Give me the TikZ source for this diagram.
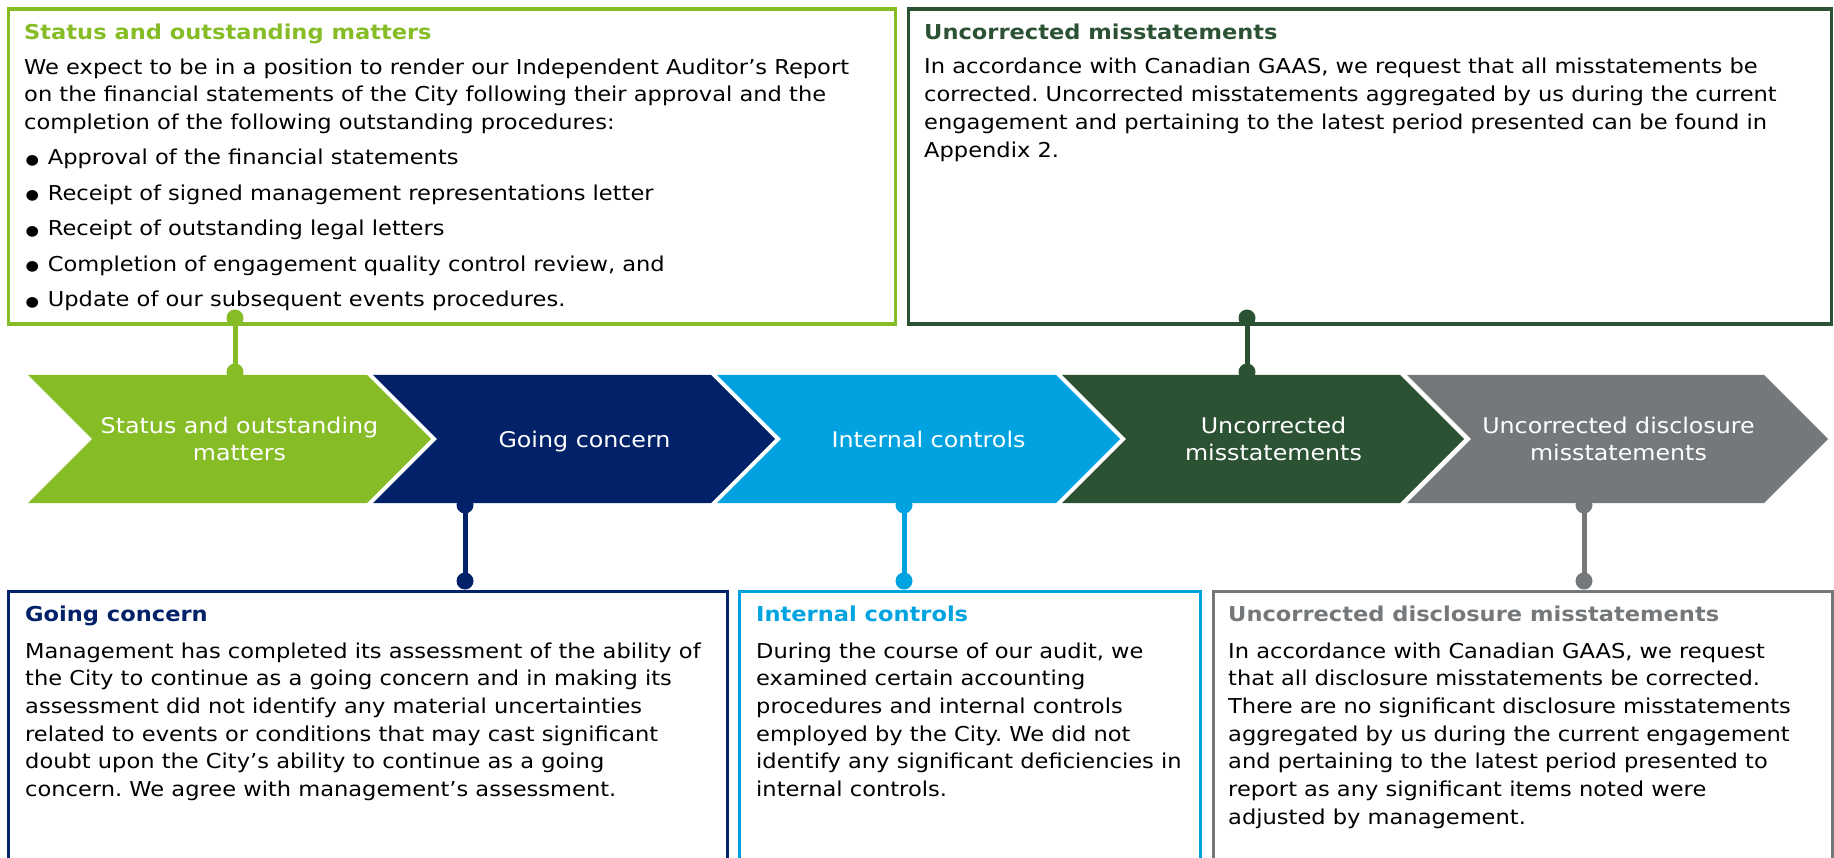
\documentclass[tikz,border=0pt]{standalone}
\usepackage{fontspec}
\setmainfont{DejaVu Sans}[FakeStretch=1.1]
\frenchspacing
\definecolor{kgreen}{HTML}{86BC25}
\definecolor{knavy}{HTML}{012169}
\definecolor{kcyan}{HTML}{00A3E0}
\definecolor{kdgreen}{HTML}{2C5234}
\definecolor{kgray}{HTML}{75787B}
\newcommand{\blt}{\makebox[23.7pt][l]{\kern1.5pt\raisebox{0.6pt}{\fontsize{14}{14}\selectfont ●}}}

\begin{document}
\begin{tikzpicture}[x=1pt,y=-1pt,
  frame/.style={draw=#1, line width=3.3pt, rectangle, inner sep=0pt, anchor=north west},
  title/.style={anchor=base west, inner sep=0pt, text=#1, font=\fontsize{20.5}{28}\selectfont\bfseries},
  body/.style={anchor=base west, inner sep=0pt, align=left, font=\fontsize{20.5}{27.7}\selectfont},
  chevtext/.style={anchor=base, text=white, align=center, inner sep=0pt, font=\fontsize{21.6}{27}\selectfont},
  pin/.style={draw=#1, line width=5pt},
  pinend/.style={fill=#1},
]
\useasboundingbox (0,0) rectangle (1834,858);
\begin{scope}
\clip (0,0) rectangle (1834,858);

% connector pins between the boxes and the chevrons
\coordinate (p1a) at (235,318);  \coordinate (p1b) at (235,372);
\coordinate (p2a) at (465,505);  \coordinate (p2b) at (465,581);
\coordinate (p3a) at (904,505);  \coordinate (p3b) at (904,581);
\coordinate (p4a) at (1247,318); \coordinate (p4b) at (1247,372);
\coordinate (p5a) at (1584,505); \coordinate (p5b) at (1584,581);
\foreach \p/\col in {1/kgreen,2/knavy,3/kcyan,4/kdgreen,5/kgray}{
  \draw[pin=\col] (p\p a) -- (p\p b);
  \fill[pinend=\col] (p\p a) circle[radius=8.5];
  \fill[pinend=\col] (p\p b) circle[radius=8.5];
}

% chevron band
\foreach \s/\c/\col in {28/367/kgreen, 373/711/knavy, 717/1056/kcyan, 1062/1400/kdgreen, 1407/1764/kgray}
  \fill[\col] (\s,375) -- (\c,375) -- (\c+64,439) -- (\c,503) -- (\s,503) -- (\s+64,439) -- cycle;

% labels are anchored on the baseline of their last line
\node[chevtext] (ch1) at (239.5,460) {Status and outstanding\\matters};
\node[chevtext] (ch2) at (584.5,447) {Going concern};
\node[chevtext] (ch3) at (928.5,447) {Internal controls};
\node[chevtext] (ch4) at (1273.5,460) {Uncorrected\\misstatements};
\node[chevtext] (ch5) at (1618.5,460) {Uncorrected disclosure\\misstatements};

% text boxes
\node[frame=kgreen, minimum width=887pt, minimum height=315pt] (bx1) at (6.5,7.5) {};
\node[frame=kdgreen, minimum width=923.5pt, minimum height=315pt] (bx2) at (906.5,7.5) {};
\node[frame=knavy, minimum width=719pt, minimum height=320pt] (bx3) at (7,590) {};
\node[frame=kcyan, minimum width=461.5pt, minimum height=320pt] (bx4) at (737.5,590) {};
\node[frame=kgray, minimum width=618.5pt, minimum height=320pt] (bx5) at (1212,590) {};

\node[title=kgreen] (t1) at (24,39.5) {Status and outstanding matters};
\node[body] (b1) at (24,307) {We expect to be in a position to render our Independent Auditor’s Report\\
on the financial statements of the City following their approval and the\\
completion of the following outstanding procedures:\\[7.8pt]
\blt Approval of the financial statements\\[7.8pt]
\blt Receipt of signed management representations letter\\[7.8pt]
\blt Receipt of outstanding legal letters\\[7.8pt]
\blt Completion of engagement quality control review, and\\[7.8pt]
\blt Update of our subsequent events procedures.};

\node[title=kdgreen] (t2) at (924,39.5) {Uncorrected misstatements};
\node[body] (b2) at (924,157.1) {In accordance with Canadian GAAS, we request that all misstatements be\\
corrected. Uncorrected misstatements aggregated by us during the current\\
engagement and pertaining to the latest period presented can be found in\\
Appendix 2.};

\node[title=knavy] (t3) at (25,621.7) {Going concern};
\node[body] (b3) at (25,796.5) {Management has completed its assessment of the ability of\\
the City to continue as a going concern and in making its\\
assessment did not identify any material uncertainties\\
related to events or conditions that may cast significant\\
doubt upon the City’s ability to continue as a going\\
concern. We agree with management’s assessment.};

\node[title=kcyan] (t4) at (756,621.7) {Internal controls};
\node[body] (b4) at (756,796.5) {During the course of our audit, we\\
examined certain accounting\\
procedures and internal controls\\
employed by the City. We did not\\
identify any significant deficiencies in\\
internal controls.};

\node[title=kgray] (t5) at (1228,621.7) {Uncorrected disclosure misstatements};
\node[body] (b5) at (1228,824.2) {In accordance with Canadian GAAS, we request\\
that all disclosure misstatements be corrected.\\
There are no significant disclosure misstatements\\
aggregated by us during the current engagement\\
and pertaining to the latest period presented to\\
report as any significant items noted were\\
adjusted by management.};
\end{scope}
\end{tikzpicture}
\end{document}
